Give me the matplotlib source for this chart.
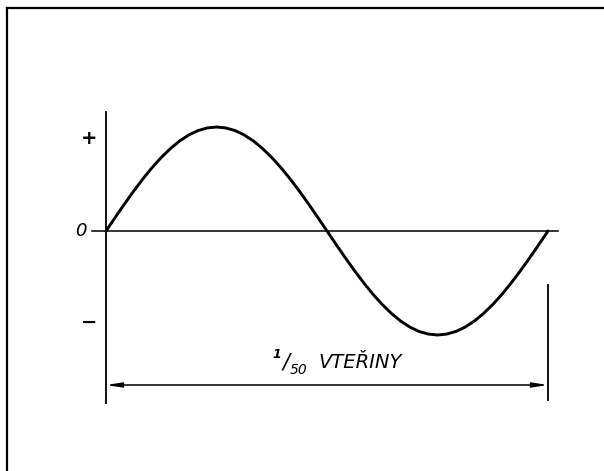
import numpy as np
import matplotlib.pyplot as plt

# one period of mains voltage, 1/50 s = 20 ms, amplitude normalised to the peak
t_ms = [0.0, 0.417, 0.833, 1.25, 1.667, 2.083, 2.5, 2.917, 3.333, 3.75, 4.167, 4.583,
        5.0, 5.417, 5.833, 6.25, 6.667, 7.083, 7.5, 7.917, 8.333, 8.75, 9.167, 9.583,
        10.0, 10.417, 10.833, 11.25, 11.667, 12.083, 12.5, 12.917, 13.333, 13.75, 14.167, 14.583,
        15.0, 15.417, 15.833, 16.25, 16.667, 17.083, 17.5, 17.917, 18.333, 18.75, 19.167, 19.583,
        20.0]
u = [0.0, 0.131, 0.259, 0.383, 0.5, 0.609, 0.707, 0.793, 0.866, 0.924, 0.966, 0.991,
     1.0, 0.991, 0.966, 0.924, 0.866, 0.793, 0.707, 0.609, 0.5, 0.383, 0.259, 0.131,
     0.0, -0.131, -0.259, -0.383, -0.5, -0.609, -0.707, -0.793, -0.866, -0.924, -0.966, -0.991,
     -1.0, -0.991, -0.966, -0.924, -0.866, -0.793, -0.707, -0.609, -0.5, -0.383, -0.259, -0.131,
     0.0]
level_labels = ['+', '0', '\u2212']
level_values = [0.89, 0.0, -0.88]
period_label = 'VTEŘINY'

W, H = 604, 471
fig = plt.figure(figsize=(W / 100, H / 100), dpi=100)

# outer frame (only the top and left edges are visible in the scan)
frame = fig.add_axes([7 / W, 0, 1 - 7 / W, 1 - 8 / H])
frame.set_xticks([])
frame.set_yticks([])
frame.spines['right'].set_visible(False)
frame.spines['bottom'].set_visible(False)
frame.spines['left'].set_linewidth(1.6)
frame.spines['top'].set_linewidth(1.6)
frame.patch.set_alpha(0)

# main drawing: x0 = 106 px, x20 = 548 px, y0 = 231 px, 104 px per unit
ax = fig.add_axes([0, 0, 1, 1])
ax.patch.set_alpha(0)
sx = (548 - 106) / 20.0
sy = 104.0
ax.set_xlim(-106 / sx, 20 + (W - 548) / sx)
ax.set_ylim(-(H - 231) / sy, 231 / sy)
ax.axis('off')

ax.plot(t_ms, u, color='black', lw=2.1, solid_capstyle='round', solid_joinstyle='round')

# axes of the drawing
ax.plot([0, 0], [(231 - 112) / sy, (231 - 403) / sy], color='black', lw=1.3)
ax.plot([(92 - 106) / sx, (558 - 106) / sx], [0, 0], color='black', lw=1.1)
ax.plot([20, 20], [(231 - 285) / sy, (231 - 400) / sy], color='black', lw=1.3)

for lab, val in zip(level_labels, level_values):
    if lab == '0':
        ax.text(-1.13, val, lab, fontsize=13, style='italic', ha='center', va='center')
    else:
        ax.text(-0.78, val, lab, fontsize=14, fontweight='bold', ha='center', va='center')

# dimension arrow for one period
ya = (231 - 385) / sy
ax.annotate('', xy=(0, ya), xytext=(20, ya),
            arrowprops=dict(arrowstyle='<|-|>,head_length=0.9,head_width=0.14',
                            color='black', lw=1.1, shrinkA=0, shrinkB=0))

yt = (231 - 363) / sy
ax.text((277 - 106) / sx, yt + 0.08, '1', fontsize=9, style='italic', fontweight='bold',
        ha='center', va='center')
ax.text((286 - 106) / sx, yt, '/', fontsize=15, style='italic', ha='center', va='center')
ax.text((299 - 106) / sx, yt - 0.07, '50', fontsize=10, style='italic',
        ha='center', va='center')
ax.text((318 - 106) / sx, yt, period_label, fontsize=14, style='italic',
        ha='left', va='center')

fig.savefig('out.png', dpi=100)
